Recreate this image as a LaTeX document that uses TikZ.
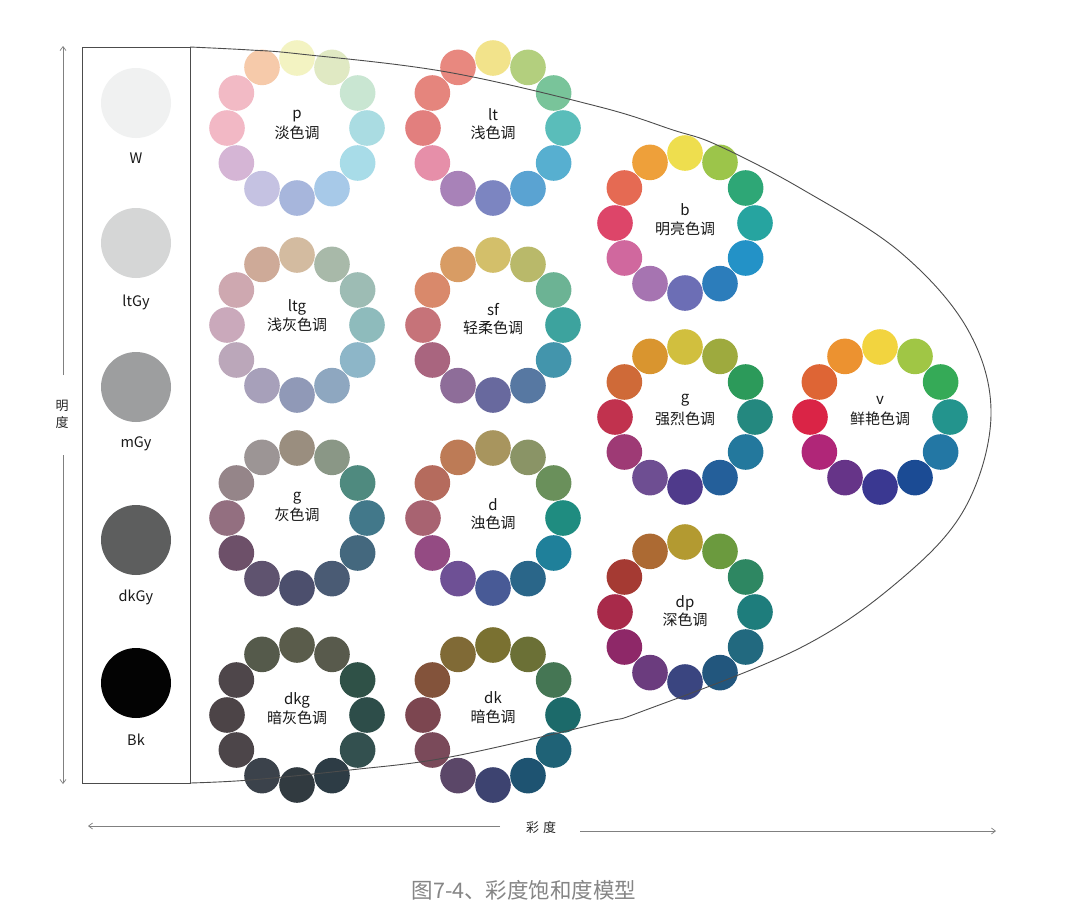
\documentclass[tikz,border=0pt]{standalone}
\usepackage{fontspec}
\setmainfont{Noto Sans CJK SC}
\usetikzlibrary{arrows.meta}
\newcommand\colorring[3]{%
  \foreach \cc [count=\ii from 0] in {#3} {
    \definecolor{ringc}{HTML}{\cc}
    \fill[ringc] ({#1+70*cos(90-30*\ii)},{#2-70*sin(90-30*\ii)}) circle[radius=17.8pt];
  }%
}
\begin{document}
\begin{tikzpicture}[x=1pt,y=-1pt,
  lbl/.style={font=\fontsize{15}{17}\selectfont, text=black!90, inner sep=0pt},
  glbl/.style={font=\fontsize{14.5}{17}\selectfont, text=black!90, inner sep=0pt},
  frame/.style={draw=black!70, line width=0.8pt},
  axisline/.style={draw=black!50, line width=0.7pt},
  axisarrow/.style={axisline, -{Straight Barb[length=4pt,width=6pt]}},
  graydot/.style={circle, minimum size=70pt, inner sep=0pt}
]
\useasboundingbox (0,0) rectangle (1091,918);
\fill[white] (0,0) rectangle (1091,918);

% left gray column
\draw[frame] (82,47) rectangle (190,783);
\definecolor{gW}{HTML}{F0F1F1}
\definecolor{gLt}{HTML}{D5D6D6}
\definecolor{gM}{HTML}{9D9E9F}
\definecolor{gDk}{HTML}{5D5E5E}
\definecolor{gBk}{HTML}{030303}
\node[graydot, fill=gW] (cW) at (136,103) {};
\node[graydot, fill=gLt] (cLt) at (136,243) {};
\node[graydot, fill=gM] (cM) at (136,387) {};
\node[graydot, fill=gDk] (cDk) at (136,540) {};
\node[graydot, fill=gBk] (cBk) at (136,683) {};
\node[glbl] (tW) at (136,158) {W};
\node[glbl] (tLt) at (136,302) {ltGy};
\node[glbl] (tM) at (136,444) {mGy};
\node[glbl] (tDk) at (136,597) {dkGy};
\node[glbl] (tBk) at (136,740) {Bk};

% rings
\colorring{297}{128}{F3F3C2,E0E9C3,C9E6D2,AADCE2,A8DCE8,A7C9E8,A7B6DC,C5C2E2,D5B5D5,F2B8C5,F2BAC5,F6CAAA}
\colorring{493}{128}{F2E38B,B3CF7E,79C49A,5ABDBA,57AFD0,5AA3D2,7C85C1,A882B8,E68FA9,E27F7E,E5857D,E8887F}
\colorring{297}{325}{D3BBA0,A8B9A9,9DBCB4,8EBBBC,8DB6C8,8EA7C0,9099B7,A7A0BA,BBA7BA,CAA9BB,CEA8B0,CEAA98}
\colorring{493}{325}{D3BF6A,B9B96A,6CB394,3DA39E,4395AC,5778A2,68699E,8E6D99,A9657F,C67379,D9896B,D89C64}
\colorring{297}{518}{9A8E7F,8A9786,4F8A7F,42788A,44687E,4A5B74,4C4F6D,5F536F,6D5069,936F80,958589,9C9595}
\colorring{493}{518}{A8955E,8A9466,6A905B,1F8C80,1F809A,2A6689,485A96,6E5095,944B83,A86371,B56B5D,BD7B56}
\colorring{297}{715}{5A5C4B,585A4C,2F5147,2D4D49,33504F,2D3C45,313A40,3B424B,4C4549,4C4447,4E464A,555A4B}
\colorring{493}{715}{7A7131,6B7036,457654,1C6A6A,1F6276,1E5371,3D4370,5B4768,7A4A5A,7C4650,83533B,806A36}
\colorring{685}{223}{EEDE4E,9CC54A,2EA776,26A4A0,2392C7,2C7DBB,6C6EB5,A674B1,D0689E,DD4569,E56A53,EEA03A}
\colorring{685}{417}{D1BF3E,9EAA3E,2C9A5A,24887F,23789D,245F9A,4F3A8B,6E4E92,9E3A75,C1324E,CF6A38,D9952F}
\colorring{880}{417}{F2D43F,A0C645,35AA57,23948D,2377A4,1B4B94,3A3891,663488,B02678,DA2446,DE6535,EC9230}
\colorring{685}{612}{B39A31,6B9A3E,2E8762,1E7D7C,22697F,22567D,3A4580,6B3C7E,8E2868,A82A4A,A53A33,AC6A33}

% ring labels
\node[lbl] (pA) at (297,116) {p};
\node[lbl] (pB) at (297,133) {淡色调};
\node[lbl] (ltA) at (493,115) {lt};
\node[lbl] (ltB) at (493,133) {浅色调};
\node[lbl] (ltgA) at (297,307) {ltg};
\node[lbl] (ltgB) at (297,325) {浅灰色调};
\node[lbl] (sfA) at (493,310) {sf};
\node[lbl] (sfB) at (493,328) {轻柔色调};
\node[lbl] (gA) at (297,498) {g};
\node[lbl] (gB) at (297,515) {灰色调};
\node[lbl] (dA) at (493,505) {d};
\node[lbl] (dB) at (493,523) {浊色调};
\node[lbl] (dkgA) at (297,700) {dkg};
\node[lbl] (dkgB) at (297,718) {暗灰色调};
\node[lbl] (dkA) at (493,698) {dk};
\node[lbl] (dkB) at (493,717) {暗色调};
\node[lbl] (bA) at (685,210) {b};
\node[lbl] (bB) at (685,229) {明亮色调};
\node[lbl] (sgA) at (685,400) {g};
\node[lbl] (sgB) at (685,419) {强烈色调};
\node[lbl] (vA) at (880,400) {v};
\node[lbl] (vB) at (880,419) {鲜艳色调};
\node[lbl] (dpA) at (685,603) {dp};
\node[lbl] (dpB) at (685,620) {深色调};

% outline curve
\draw[frame, line width=0.9pt] plot[smooth, tension=0.6] coordinates {(190,47) (250,50) (300,54) (447,72) (600,107) (673,130) (717,145) (800,188) (900,252) (968,330) (991,415) (965,508) (900,580) (800,648) (643,711) (600,723) (450,757) (350,770) (250,780) (190,783)};

% vertical axis
\node[font=\fontsize{13}{17}\selectfont, text=black!85, align=center, inner sep=0pt] (ming) at (62,414) {明\\度};
\coordinate (vTop) at (63,46);
\coordinate (vUp) at (63,375);
\coordinate (vDn) at (63,455);
\coordinate (vBot) at (63,784);
\draw[axisarrow] (vUp) -- (vTop);
\draw[axisarrow] (vDn) -- (vBot);

% horizontal axis
\node[font=\fontsize{13}{16}\selectfont, text=black!85, inner sep=0pt] (cai) at (541,828) {彩\hspace{4pt}度};
\coordinate (hLs) at (500,826);
\coordinate (hLe) at (88,826);
\coordinate (hRs) at (580,831);
\coordinate (hRe) at (996,831);
\draw[axisarrow] (hLs) -- (hLe);
\draw[axisarrow] (hRs) -- (hRe);

% caption
\node[font=\fontsize{21.5}{24}\selectfont, text=black!48, inner sep=0pt] (cap) at (524,890) {图7-4、彩度饱和度模型};
\end{tikzpicture}
\end{document}
